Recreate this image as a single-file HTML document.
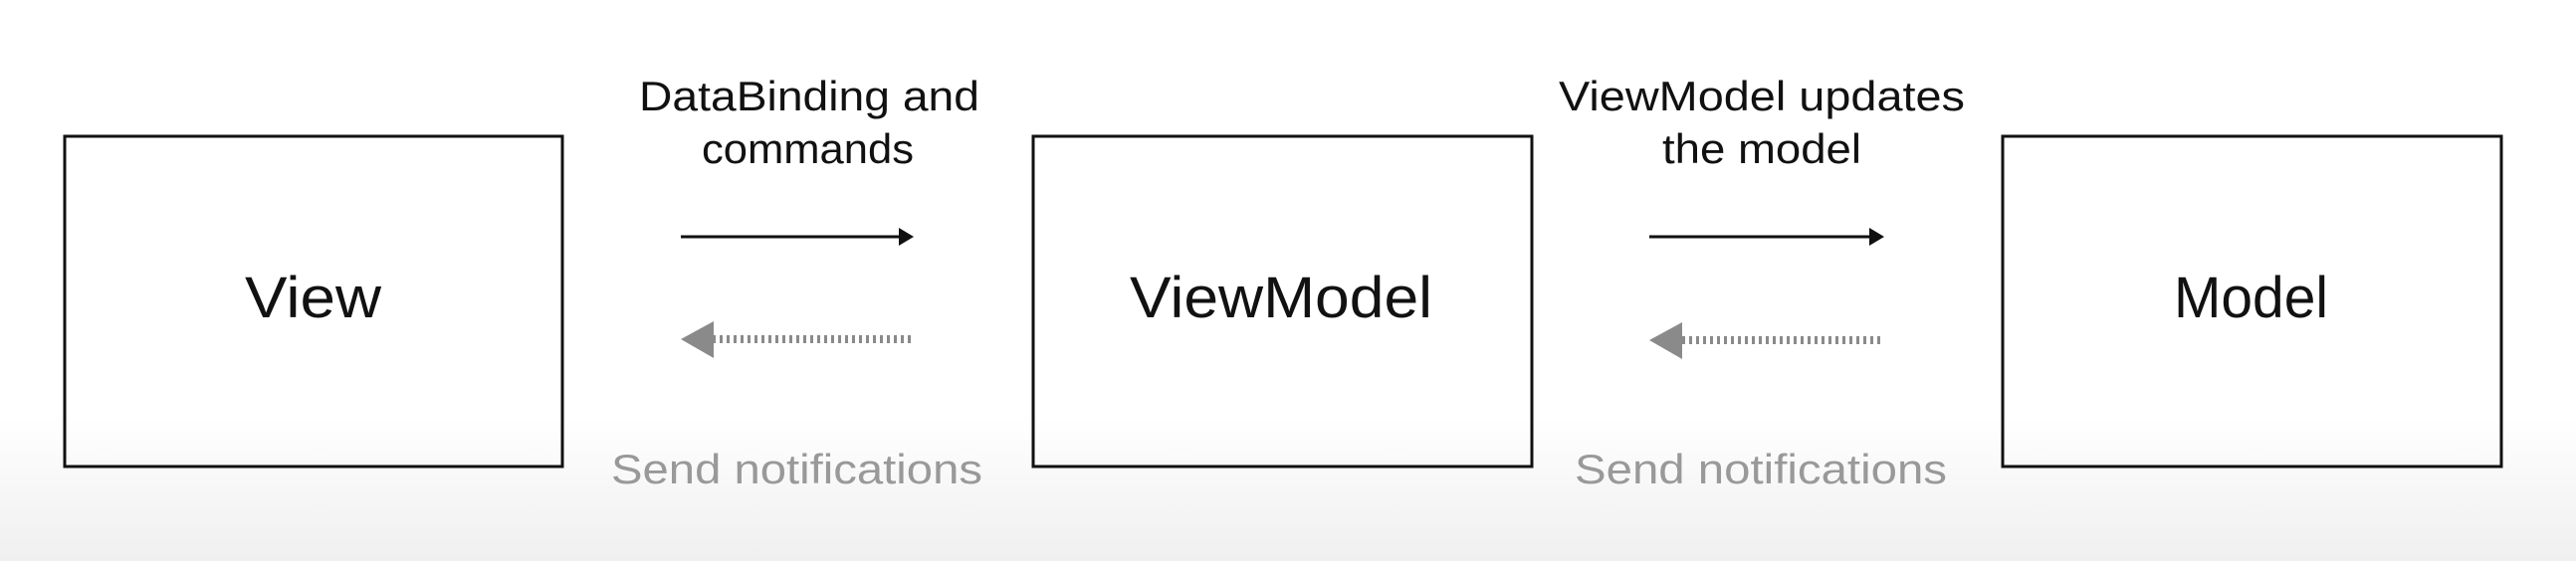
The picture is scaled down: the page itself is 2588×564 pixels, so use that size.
<!DOCTYPE html>
<html><head><meta charset="utf-8"><style>
html,body{margin:0;padding:0;}
body{width:2588px;height:564px;overflow:hidden;background:linear-gradient(to bottom,#ffffff 0px,#ffffff 420px,#efefef 564px);}
svg{display:block;}
text{font-family:"Liberation Sans",sans-serif;}
</style></head><body>
<svg width="2588" height="564" viewBox="0 0 2588 564" xmlns="http://www.w3.org/2000/svg">
<g fill="none" stroke="#111" stroke-width="3">
<rect x="65" y="137" width="500" height="332"/>
<rect x="1038" y="137" width="501" height="332"/>
<rect x="2012" y="137" width="501" height="332"/>
</g>
<g fill="#111">
<text x="246" y="319" font-size="58" textLength="137" lengthAdjust="spacingAndGlyphs">View</text>
<text x="1135" y="319" font-size="58" textLength="304" lengthAdjust="spacingAndGlyphs">ViewModel</text>
<text x="2184" y="319" font-size="58" textLength="155" lengthAdjust="spacingAndGlyphs">Model</text>
<text x="642" y="111" font-size="42" textLength="342" lengthAdjust="spacingAndGlyphs">DataBinding and</text>
<text x="705" y="164" font-size="42" textLength="213" lengthAdjust="spacingAndGlyphs">commands</text>
<text x="1566" y="111" font-size="42" textLength="408" lengthAdjust="spacingAndGlyphs">ViewModel updates</text>
<text x="1670" y="164" font-size="42" textLength="200" lengthAdjust="spacingAndGlyphs">the model</text>
</g>
<g fill="#999">
<text x="614" y="486" font-size="42" textLength="373" lengthAdjust="spacingAndGlyphs">Send notifications</text>
<text x="1582" y="486" font-size="42" textLength="374" lengthAdjust="spacingAndGlyphs">Send notifications</text>
</g>
<g stroke="#111" stroke-width="3">
<line x1="684" y1="238" x2="908" y2="238"/>
<line x1="1657" y1="238" x2="1883" y2="238"/>
</g>
<polygon points="903,229 918,238 903,247" fill="#111"/>
<polygon points="1878,229 1893,238 1878,247" fill="#111"/>
<g stroke="#8a8a8a" stroke-width="8" stroke-dasharray="3,4">
<line x1="716" y1="341" x2="918" y2="341"/>
<line x1="1690" y1="342" x2="1893" y2="342"/>
</g>
<polygon points="684,341 717,323 717,360" fill="#8a8a8a"/>
<polygon points="1657,342 1690,324 1690,361" fill="#8a8a8a"/>
</svg>
</body></html>
